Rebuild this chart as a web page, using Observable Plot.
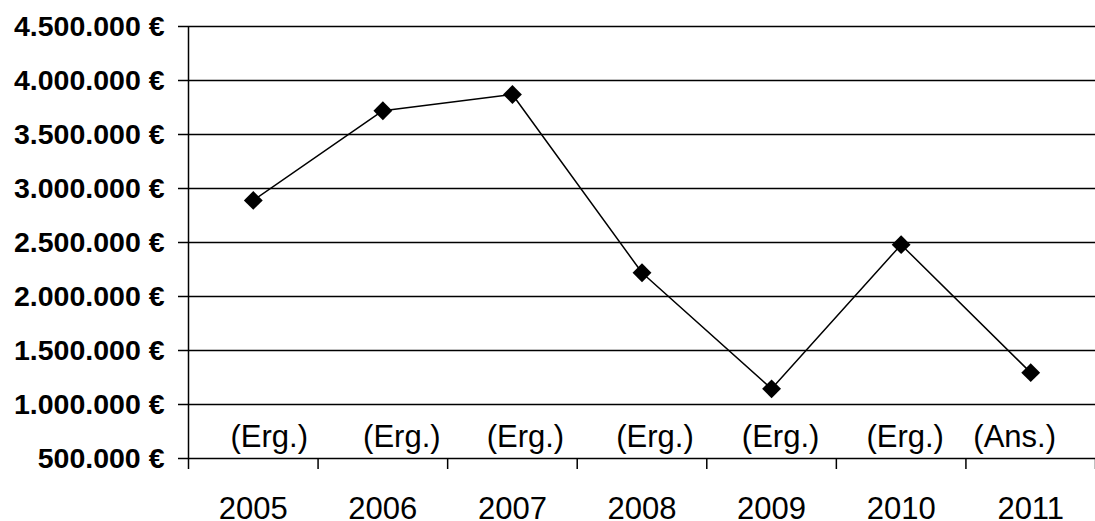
<!DOCTYPE html>
<html><head><meta charset="utf-8">
<script src="https://cdn.jsdelivr.net/npm/d3@7"></script>
<script src="https://cdn.jsdelivr.net/npm/@observablehq/plot@0.6"></script>
<style>html,body{margin:0;padding:0;background:#fff;}#chart svg{display:block;}</style>
</head><body><div id="chart"></div>
<script>
const years = ["2005", "2006", "2007", "2008", "2009", "2010", "2011"];
const notes = ["(Erg.)", "(Erg.)", "(Erg.)", "(Erg.)", "(Erg.)", "(Erg.)", "(Ans.)"];
const values = [2890000, 3720000, 3870000, 2220000, 1145000, 2480000, 1295000];
const yTicks = [500000, 1000000, 1500000, 2000000, 2500000, 3000000, 3500000, 4000000, 4500000];

const data = years.map((y, i) => ({year: y, idx: i + 0.5, value: values[i], note: notes[i]}));
const noteShift = [16, 19, 13, 13, 9, 4, -16];
const fmt = v => d3.format(",")(v).replace(/,/g, ".") + " €";

const chart = Plot.plot({
  width: 1095, height: 521,
  marginTop: 26, marginLeft: 188, marginRight: 0, marginBottom: 63,
  style: {fontFamily: "'Liberation Sans', Arial, sans-serif", color: "#000", background: "#fff"},
  x: {type: "linear", domain: [0, 7], label: null},
  y: {domain: [500000, 4500000], label: null},
  marks: [
    Plot.gridY(yTicks, {stroke: "#000", strokeOpacity: 1, strokeWidth: 1.5}),
    Plot.axisY(yTicks, {tickFormat: fmt, tickSize: 10, tickPadding: 14, fontSize: 28.5, fontWeight: "bold", strokeWidth: 1.5, label: null}),
    Plot.ruleX([0], {stroke: "#000", strokeWidth: 1.5}),
    Plot.axisX(d3.range(0, 8), {tickFormat: () => "", tickSize: 11, strokeWidth: 1.5, label: null}),
    Plot.axisX(years.map((y, i) => i + 0.5), {tickFormat: d => years[Math.floor(d)], tickSize: 0, tickPadding: 38, fontSize: 31, label: null}),
    Plot.line(data, {x: "idx", y: "value", stroke: "#000", strokeWidth: 1.5}),
    Plot.dot(data, {x: "idx", y: "value", symbol: "diamond2", r: 8.5, fill: "#000", stroke: "none"}),
    ...data.map((d, i) => Plot.text([d], {x: "idx", frameAnchor: "bottom", text: "note", dx: noteShift[i], dy: -11.5, lineAnchor: "bottom", fontSize: 31, fill: "#000"}))
  ]
});
document.getElementById("chart").append(chart);
</script>
</body></html>
